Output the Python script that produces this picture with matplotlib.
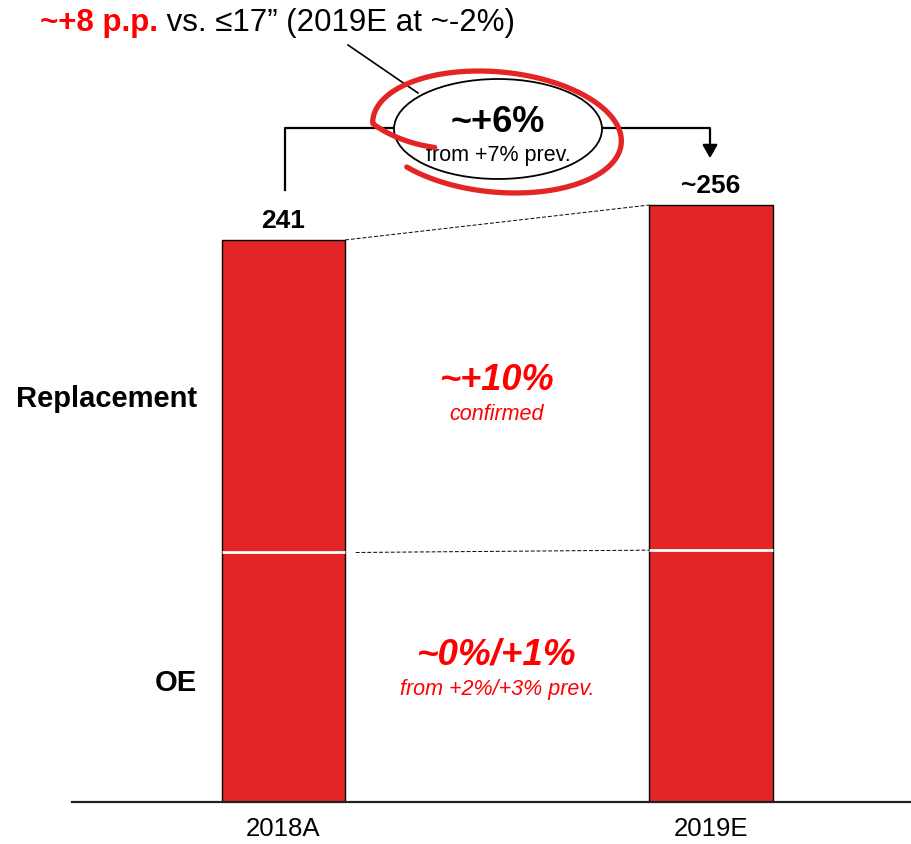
import numpy as np
import matplotlib.pyplot as plt
from matplotlib.patches import Ellipse

plt.rcParams['font.family'] = ['Liberation Sans', 'DejaVu Sans']

# data (indexed, approx. units)
years = ['2018A', '2019E']
oe = [107, 108]
replacement = [134, 148]
totals = ['241', '~256']

bar_red = '#E32526'
txt_red = '#FF0000'

fig = plt.figure(figsize=(9.12, 8.44), dpi=100)
ax = fig.add_axes([72 / 912, 42 / 844, 840 / 912, 802 / 844])

x = np.arange(len(years))
w = 0.288
ax.bar(x, oe, w, color=bar_red, edgecolor='black', linewidth=1, zorder=2)
ax.bar(x, replacement, w, bottom=oe, color=bar_red, edgecolor='black', linewidth=1, zorder=2)
ax.hlines(oe, x - w / 2, x + w / 2, color='white', linewidth=2, zorder=3)

tot = np.array(oe) + np.array(replacement)
for i in x:
    ax.text(i, tot[i] + 3, totals[i], ha='center', va='bottom', fontsize=19, fontweight='bold')

# dashed connectors
ax.plot([w / 2, 1 - w / 2], [tot[0], tot[1]], ls='--', color='black', lw=0.7, dashes=(4, 2))
ax.plot([w / 2 + 0.025, 1 - w / 2], [oe[0], oe[1]], ls='--', color='black', lw=0.7, dashes=(4, 2))

ax.set_xlim(-0.4947, 1.4702)
ax.set_ylim(0, 343.9)
ax.set_xticks(x)
ax.set_xticklabels(years, fontsize=18.5)
ax.tick_params(axis='x', length=0, pad=11)
ax.set_yticks([])
for s in ['top', 'left', 'right']:
    ax.spines[s].set_visible(False)
ax.spines['bottom'].set_linewidth(1.6)
ax.spines['bottom'].set_color('#222222')

# segment labels
ax.text(-0.203, (oe[0] + tot[0]) / 2 - 1, 'Replacement', ha='right', va='center',
        fontsize=21, fontweight='bold')
ax.text(-0.203, oe[0] / 2 - 2.5, 'OE', ha='right', va='center', fontsize=21, fontweight='bold')

# overlay in pixel coordinates for callouts
ov = fig.add_axes([0, 0, 1, 1], zorder=5)
ov.set_xlim(0, 912)
ov.set_ylim(844, 0)
ov.axis('off')
ov.patch.set_alpha(0)

ov.text(497, 381, '~+10%', ha='center', va='center', color=txt_red, fontsize=26,
        fontweight='bold', style='italic')
ov.text(497, 414, 'confirmed', ha='center', va='center', color=txt_red, fontsize=15.5, style='italic')
ov.text(497, 655, '~0%/+1%', ha='center', va='center', color=txt_red, fontsize=26.5,
        fontweight='bold', style='italic')
ov.text(497, 690, 'from +2%/+3% prev.', ha='center', va='center', color=txt_red, fontsize=15.5,
        style='italic')

# bracket with arrow
ov.plot([285, 285, 395], [190, 128, 128], color='black', lw=1.6)
ov.plot([602, 710, 710], [128, 128, 150], color='black', lw=1.6)
ov.annotate('', xy=(710, 161), xytext=(710, 143),
            arrowprops=dict(arrowstyle='-|>,head_width=0.45,head_length=0.8', color='black', lw=1.6))

ov.add_patch(Ellipse((498, 129), 208, 100, facecolor='white', edgecolor='black', lw=1.3, zorder=3))
ov.text(498, 122, '~+6%', ha='center', va='center', fontsize=26, fontweight='bold', zorder=4)
ov.text(498, 155, 'from +7% prev.', ha='center', va='center', fontsize=15.5, zorder=4)

# red hand-drawn loop
th = np.radians(np.linspace(-145, 205, 300))
s = np.where(th < np.radians(172), 1.0,
             1.0 - 0.4 * (th - np.radians(172)) / np.radians(33))
yy = 132 - 61 * s * np.sin(th)
xx = 497 + 123 * s * np.cos(th) + 0.3 * (yy - 132)
ov.plot(xx, yy, color=bar_red, lw=3.8, solid_capstyle='round', zorder=5)

ov.plot([348, 418], [45, 93], color='black', lw=1.2, zorder=2)

t1 = ov.text(40, 23, '~+8 p.p.', ha='left', va='center', color=txt_red, fontsize=22.5,
             fontweight='bold')
ov.annotate(' vs. ≤17” (2019E at ~-2%)', xy=(1, 0), xycoords=t1, ha='left', va='bottom',
            fontsize=22.5)

fig.savefig('out.png', dpi=100)
